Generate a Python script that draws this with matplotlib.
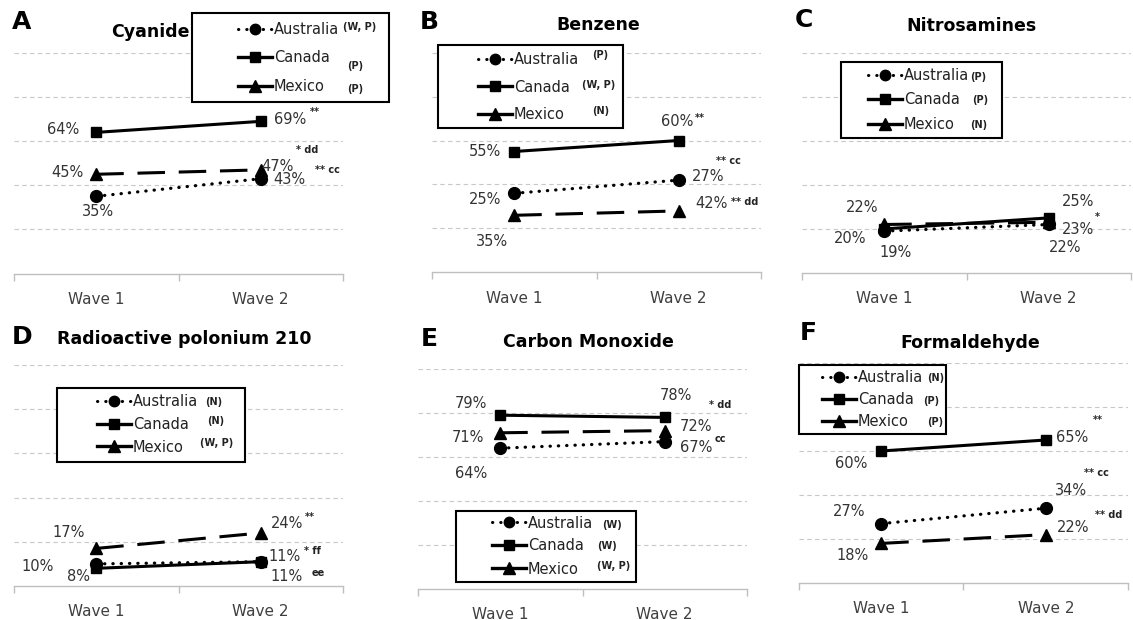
import matplotlib
matplotlib.use("Agg")
import matplotlib.pyplot as plt
from matplotlib.lines import Line2D
from matplotlib.patches import Rectangle

plt.rcParams['font.family'] = ['DejaVu Sans']
W, H = 1133, 620

# ---------------- data ----------------
waves = ["Wave 1", "Wave 2"]
countries = ["Australia", "Canada", "Mexico"]
letters = ["A", "B", "C", "D", "E", "F"]
titles = ["Cyanide", "Benzene", "Nitrosamines",
          "Radioactive polonium 210", "Carbon Monoxide", "Formaldehyde"]

cyanide_australia = [35, 43]
cyanide_canada = [64, 69]
cyanide_mexico = [45, 47]
benzene_australia = [36, 42]
benzene_canada = [55, 60]
benzene_mexico = [26, 28]
nitro_australia = [19, 22]
nitro_canada = [20, 25]
nitro_mexico = [22, 23]
polonium_australia = [10, 11]
polonium_canada = [8, 11]
polonium_mexico = [17, 24]
co_australia = [64, 67]
co_canada = [79, 78]
co_mexico = [71, 72]
formal_australia = [27, 34]
formal_canada = [60, 65]
formal_mexico = [18, 22]

cyanide_notes = ["(W, P)", "(P)", "(P)"]
benzene_notes = ["(P)", "(W, P)", "(N)"]
nitro_notes = ["(P)", "(P)", "(N)"]
polonium_notes = ["(N)", "(N)", "(W, P)"]
co_notes = ["(W)", "(W)", "(W, P)"]
formal_notes = ["(N)", "(P)", "(P)"]

# value labels: (text, country, wave index)
cyanide_labels = [("64%", "Canada", 0), ("69%", "Canada", 1), ("**", "Canada", 1),
                  ("* dd", "Mexico", 1), ("45%", "Mexico", 0), ("47%", "Mexico", 1),
                  ("** cc", "Mexico", 1), ("43%", "Australia", 1), ("35%", "Australia", 0)]
benzene_labels = [("55%", "Canada", 0), ("60%", "Canada", 1), ("**", "Canada", 1),
                  ("27%", "Australia", 1), ("** cc", "Australia", 1), ("42%", "Mexico", 1),
                  ("** dd", "Mexico", 1), ("25%", "Australia", 0), ("35%", "Mexico", 0)]
nitro_labels = [("22%", "Mexico", 0), ("20%", "Canada", 0), ("19%", "Australia", 0),
                ("25%", "Canada", 1), ("23%", "Mexico", 1), ("*", "Mexico", 1),
                ("22%", "Australia", 1)]
polonium_labels = [("17%", "Mexico", 0), ("24%", "Mexico", 1), ("**", "Mexico", 1),
                   ("10%", "Australia", 0), ("8%", "Canada", 0), ("11%", "Canada", 1),
                   ("* ff", "Canada", 1), ("11%", "Canada", 1), ("ee", "Canada", 1)]
co_labels = [("79%", "Canada", 0), ("78%", "Canada", 1), ("* dd", "Canada", 1),
             ("71%", "Mexico", 0), ("72%", "Mexico", 1), ("67%", "Australia", 1),
             ("cc", "Australia", 1), ("64%", "Australia", 0)]
formal_labels = [("65%", "Canada", 1), ("**", "Canada", 1), ("60%", "Canada", 0),
                 ("** cc", "Australia", 1), ("34%", "Australia", 1), ("27%", "Australia", 0),
                 ("** dd", "Mexico", 1), ("22%", "Mexico", 1), ("18%", "Mexico", 0)]

panels = [
    (cyanide_australia, cyanide_canada, cyanide_mexico, cyanide_notes, cyanide_labels),
    (benzene_australia, benzene_canada, benzene_mexico, benzene_notes, benzene_labels),
    (nitro_australia, nitro_canada, nitro_mexico, nitro_notes, nitro_labels),
    (polonium_australia, polonium_canada, polonium_mexico, polonium_notes, polonium_labels),
    (co_australia, co_canada, co_mexico, co_notes, co_labels),
    (formal_australia, formal_canada, formal_mexico, formal_notes, formal_labels),
]

# ---------------- layout (pixels) ----------------
axes_px = [(14, 53, 273.5), (432, 52.5, 272.5), (802, 52.5, 273),
           (14, 365, 586), (418, 369, 589), (799, 363, 583)]
AX_W = 329
label_offsets = [
    [(-33, 3), (29, 2), (54, 9), (46, 20), (-29, 2), (17, 3), (67, 0), (29, -1), (2, -15)],
    [(-29, 0), (-2, 19), (21, 23), (29, 4), (50, 19), (33, 7), (66, 9), (-29, -6), (-22, -26)],
    [(-22, 17), (-34, -10), (11, -21), (29, 16), (29, -7), (49, 5), (16, -23)],
    [(-28, 16), (26, 9), (49, 16), (-59, -3), (-18, -8), (24, 5), (52, 11), (26, -15), (57, -11)],
    [(-29, 12), (11, 22), (55, 12), (-32, -5), (31, 4), (31, -6), (56, 3), (-29, -25)],
    [(26, 3), (52, 20), (-30, -13), (51, 35), (25, 18), (-32, 12), (63, 20), (27, 7), (-29, -12)],
]
title_pos = [(150, 32), (598, 25), (971, 26), (184, 339), (588, 342), (970, 343)]
letter_pos = [(22, 22), (429, 22), (804, 20), (22, 337), (429, 339), (808, 333)]
legend_box = [(192, 13, 389, 102), (438, 45, 623, 128), (841, 62, 1002, 138),
              (57, 388, 245, 462), (456, 511, 636, 582), (799, 365, 946, 434)]
legend_handle_x = [238, 478, 868, 97, 492, 822]
legend_rows = [(30, 58, 87), (59, 87, 114), (76, 100, 125),
               (402, 424.5, 447), (523, 546, 569), (378, 400, 422)]
note_x = [(343, 347, 347), (592, 582, 592), (970, 972, 970),
          (205, 207, 200), (602, 597, 597), (927, 923, 927)]
note_dy = [(2, -8, -2), (4, 2, 3), (-2, 0, -1), (0, 3, 4), (-2, 0, 3), (0, -1, 0)]

LEG_FS = 10.5
styles = {
    "Australia": dict(color="black", lw=2.3, linestyle=(0, (0.1, 2.5)),
                      dash_capstyle="round", marker="o", ms=8.5),
    "Canada": dict(color="black", lw=2.2, linestyle="-", marker="s", ms=7.5),
    "Mexico": dict(color="black", lw=2.2, linestyle=(0, (9, 4.5)), marker="^", ms=8.5),
}


def make_legend(ax, i, spacing):
    handles = [Line2D([], [], color="black", lw=2.2, linestyle=(0, (0.1, 2.6)),
                      dash_capstyle="round", marker="o", ms=7.5),
               Line2D([], [], color="black", lw=2.4, marker="s", ms=7),
               Line2D([], [], color="black", lw=2.4, marker="^", ms=8)]
    rows = legend_rows[i]
    leg = ax.legend(handles, countries, loc="center left",
                    bbox_to_anchor=(legend_handle_x[i] / W, 1 - rows[1] / H),
                    bbox_transform=fig.transFigure, frameon=False, borderpad=0,
                    borderaxespad=0, handlelength=2.3, handletextpad=0.15,
                    labelspacing=spacing, fontsize=LEG_FS)
    leg.set_zorder(5)
    for t in leg.get_texts():
        t.set_color("#222222")
    return leg


fig = plt.figure(figsize=(W / 100, H / 100), dpi=100)
axes = []
for i, (au, ca, mx, notes, labels) in enumerate(panels):
    left, y100, y0 = axes_px[i]
    ax = fig.add_axes([left / W, 1 - y0 / H, AX_W / W, (y0 - y100) / H])
    axes.append(ax)
    ax.set_xlim(-0.5, 1.5)
    ax.set_ylim(0, 100)
    for s in ["left", "right", "top"]:
        ax.spines[s].set_visible(False)
    ax.spines["bottom"].set_color("#bfbfbf")
    ax.spines["bottom"].set_linewidth(1.0)
    ax.set_yticks([20, 40, 60, 80, 100])
    ax.tick_params(axis="y", length=0, labelleft=False)
    ax.yaxis.grid(True, linestyle=(0, (4, 3)), color="#c8c8c8", lw=0.8)
    ax.set_axisbelow(True)
    ax.set_xticks([0, 1])
    ax.set_xticklabels(waves, fontsize=11, color="#404040")
    ax.set_xticks([-0.5, 0.5, 1.5], minor=True)
    ax.tick_params(axis="x", which="major", length=0, pad=13)
    ax.tick_params(axis="x", which="minor", length=5, color="#bfbfbf", width=1)

    series = {"Australia": au, "Canada": ca, "Mexico": mx}
    for c in countries:
        ax.plot([0, 1], series[c], zorder=3, clip_on=False, **styles[c])

    for (txt, c, w), (dx, dy) in zip(labels, label_offsets[i]):
        if "%" in txt:
            kw = dict(fontsize=10.5, color="#333333")
        else:
            kw = dict(fontsize=7, color="#222222", fontweight="bold")
        ax.annotate(txt, xy=(w, series[c][w]), xytext=(dx, dy),
                    textcoords="offset pixels", ha="center", va="center",
                    annotation_clip=False, **kw)

    fig.text(title_pos[i][0] / W, 1 - title_pos[i][1] / H, titles[i],
             fontsize=12.5, fontweight="bold", ha="center", va="center")
    fig.text(letter_pos[i][0] / W, 1 - letter_pos[i][1] / H, letters[i],
             fontsize=18, fontweight="bold", ha="center", va="center")

    x0, t0, x1, b0 = legend_box[i]
    ax.add_patch(Rectangle((x0 / W, 1 - b0 / H), (x1 - x0) / W, (b0 - t0) / H,
                           transform=fig.transFigure, facecolor="white",
                           edgecolor="black", lw=1.5, clip_on=False, zorder=4))
    make_legend(ax, i, 0.6)

# adjust legend row pitch to match the reference
fig.canvas.draw()
r = fig.canvas.get_renderer()
fs_px = LEG_FS * 100 / 72
for i, ax in enumerate(axes):
    leg = ax.get_legend()
    bbs = [t.get_window_extent(r) for t in leg.get_texts()]
    cur = (bbs[0].y0 + bbs[0].y1) / 2 - (bbs[2].y0 + bbs[2].y1) / 2
    rows = legend_rows[i]
    want = rows[2] - rows[0]
    make_legend(ax, i, max(0.0, 0.6 + (want - cur) / 2 / fs_px))

fig.canvas.draw()
r = fig.canvas.get_renderer()
for i, ax in enumerate(axes):
    leg = ax.get_legend()
    notes = panels[i][3]
    for k, t in enumerate(leg.get_texts()):
        bb = t.get_window_extent(r)
        yc = (bb.y0 + bb.y1) / 2 + note_dy[i][k]
        fig.text(note_x[i][k] / W, yc / H, notes[k], fontsize=7, fontweight="bold",
                 ha="left", va="center", color="#222222", zorder=6)

fig.savefig("out.png", dpi=100)
